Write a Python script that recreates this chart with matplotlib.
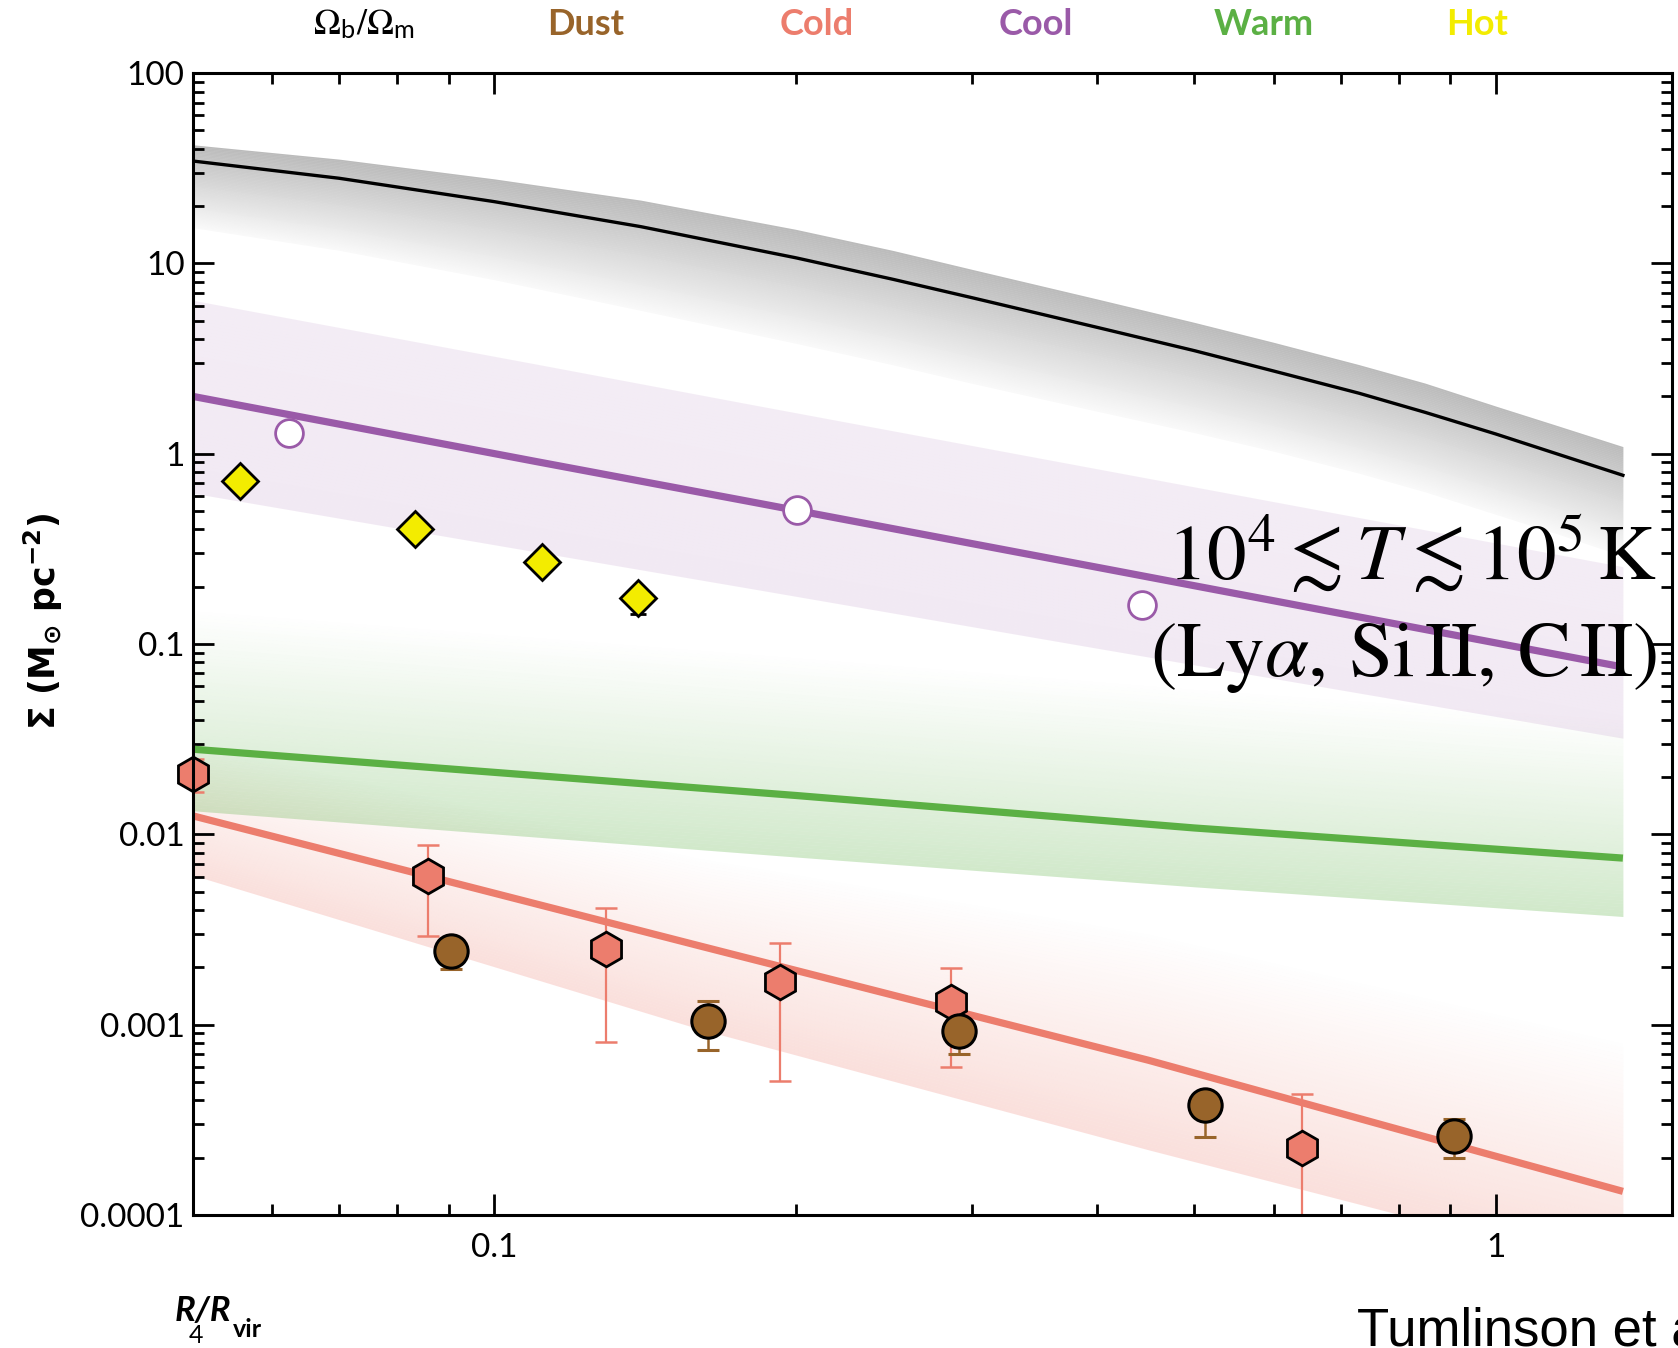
import numpy as np
import matplotlib
matplotlib.use("Agg")
import matplotlib.pyplot as plt
from matplotlib.ticker import FixedLocator, FixedFormatter, NullFormatter
from matplotlib import font_manager

# ---------------- data ----------------
# Omega_b/Omega_m (black curve) and its grey band
r_bar = [0.05, 0.07, 0.1, 0.14, 0.2, 0.25, 0.3, 0.4, 0.5, 0.6, 0.73, 0.85, 1.0, 1.15, 1.34]
sig_bar = [34.5, 28.0, 21.1, 15.6, 10.7, 8.25, 6.6, 4.61, 3.48, 2.72, 2.08, 1.65, 1.27, 1.0, 0.77]
bar_hi = [42.0, 35.3, 27.8, 21.5, 15.1, 11.7, 9.3, 6.5, 4.9, 3.85, 2.94, 2.35, 1.78, 1.41, 1.09]
bar_lo = [15.4, 11.7, 8.2, 5.66, 3.8, 2.93, 2.34, 1.67, 1.29, 1.03, 0.79, 0.63, 0.48, 0.38, 0.29]

# Cool gas model
r_cool_model = [0.05, 0.11, 0.18, 0.4, 1.34]
sig_cool_model = [2.0, 0.91, 0.56, 0.253, 0.0757]
cool_hi = [6.4, 2.96, 1.82, 0.833, 0.255]
cool_lo = [0.62, 0.305, 0.196, 0.095, 0.032]

# Warm gas model
r_warm_model = [0.05, 0.2, 0.5, 1.34]
sig_warm_model = [0.028, 0.016, 0.0108, 0.0075]
warm_hi = [0.15, 0.085, 0.058, 0.04]
warm_lo = [0.0133, 0.0076, 0.0053, 0.0037]

# Cold gas model
r_cold_model = [0.05, 0.16, 0.45, 1.34]
sig_cold_model = [0.0125, 0.0026, 0.00065, 0.000133]
cold_hi = [0.03, 0.0075, 0.003, 0.0008]
cold_lo = [0.0061, 0.00095, 0.00022, 0.00005]

# Hot data (diamonds)
r_hot = [0.0557, 0.0834, 0.1117, 0.139]
sig_hot = [0.72, 0.40, 0.27, 0.175]
hot_err_lo = [0.72, 0.40, 0.27, 0.143]
hot_err_hi = [0.72, 0.40, 0.27, 0.186]

# Cool data (open circles)
r_cool = [0.0624, 0.2004, 0.443]
sig_cool = [1.29, 0.507, 0.160]

# Cold data (hexagons)
r_cold = [0.05, 0.0859, 0.1294, 0.193, 0.286, 0.641]
sig_cold = [0.0207, 0.00605, 0.0025, 0.00168, 0.00131, 0.000225]
cold_err_lo = [0.0166, 0.00293, 0.000813, 0.000504, 0.000596, 0.00005]
cold_err_hi = [0.025, 0.0088, 0.0041, 0.0027, 0.00199, 0.00043]

# Dust data (circles)
r_dust = [0.0905, 0.1634, 0.291, 0.513, 0.909]
sig_dust = [0.00243, 0.00104, 0.000925, 0.000379, 0.00026]
dust_err_lo = [0.00195, 0.000733, 0.000697, 0.000256, 0.000198]
dust_err_hi = [0.0027, 0.00133, 0.00105, 0.00042, 0.00032]

y_ticks = [1e-4, 1e-3, 1e-2, 1e-1, 1, 10, 100]
y_ticklabels = ["0.0001", "0.001", "0.01", "0.1", "1", "10", "100"]
x_ticks = [0.1, 1]
x_ticklabels = ["0.1", "1"]

top_labels = [r"$\Omega_{\mathregular{b}}/\Omega_{\mathregular{m}}$", "Dust", "Cold", "Cool", "Warm", "Hot"]

# ---------------- style ----------------
C_DUST = "#98642a"
C_COLD = "#ec7d6d"
C_COOL = "#9a5aa8"
C_WARM = "#5bb044"
C_HOT = "#f3ec00"

plt.rcParams["font.family"] = ["Lato", "DejaVu Sans"]
plt.rcParams["mathtext.fontset"] = "dejavusans"

installed = {f.name for f in font_manager.fontManager.ttflist}
TICK_FAMILY = "Liberation Sans Narrow" if "Liberation Sans Narrow" in installed else "Lato"
TICK_SIZE = 26 if TICK_FAMILY == "Liberation Sans Narrow" else 24

fig = plt.figure(figsize=(16.78, 13.48), dpi=100)
ax = fig.add_axes([0.115, 0.0987, 0.8814, 0.8471])
ax.set_xscale("log")
ax.set_yscale("log")
ax.set_xlim(0.05, 1.5)
ax.set_ylim(1e-4, 100)


def grad_band(x, lo, hi, color, a_lo, a_hi, n=60, z=1):
    x = np.asarray(x, float)
    llo = np.log10(np.asarray(lo, float))
    lhi = np.log10(np.asarray(hi, float))
    for i in range(n):
        f0, f1 = i / n, (i + 1) / n
        y0 = 10 ** (llo + (lhi - llo) * f0)
        y1 = 10 ** (llo + (lhi - llo) * f1)
        a = a_lo + (a_hi - a_lo) * (f0 + f1) / 2
        ax.fill_between(x, y0, y1, color=color, alpha=a, lw=0,
                        antialiased=False, zorder=z)


grad_band(r_cold_model, cold_lo, cold_hi, C_COLD, 0.24, 0.0, z=1)
grad_band(r_warm_model, warm_lo, warm_hi, C_WARM, 0.28, 0.0, z=1.1)
grad_band(r_cool_model, cool_lo, cool_hi, C_COOL, 0.13, 0.11, z=1.2)
grad_band(r_bar, bar_lo, bar_hi, "black", 0.02, 0.27, z=1.3)

ax.plot(r_cold_model, sig_cold_model, color=C_COLD, lw=5.2, solid_capstyle="butt", zorder=3)
ax.plot(r_warm_model, sig_warm_model, color=C_WARM, lw=5.2, solid_capstyle="butt", zorder=3)
ax.plot(r_cool_model, sig_cool_model, color=C_COOL, lw=5.2, solid_capstyle="butt", zorder=3)
ax.plot(r_bar, sig_bar, color="black", lw=2.4, zorder=3)

# Hot diamonds
s = np.array(sig_hot)
ax.errorbar(r_hot, sig_hot,
            yerr=[s - np.array(hot_err_lo), np.array(hot_err_hi) - s],
            fmt="none", ecolor="black", elinewidth=1.8, capsize=6, capthick=2, zorder=4)
ax.plot(r_hot, sig_hot, ls="none", marker="D", ms=18, mfc=C_HOT, mec="black",
        mew=2, zorder=5)

# Cool open circles
ax.plot(r_cool, sig_cool, ls="none", marker="o", ms=20, mfc="white", mec=C_COOL,
        mew=2, zorder=5)

# Cold hexagons
s = np.array(sig_cold)
ax.errorbar(r_cold, sig_cold,
            yerr=[s - np.array(cold_err_lo), np.array(cold_err_hi) - s],
            fmt="none", ecolor=C_COLD, elinewidth=1.6, capsize=8, capthick=1.8, zorder=4)
ax.plot(r_cold, sig_cold, ls="none", marker="h", ms=25, mfc=C_COLD, mec="black",
        mew=2, zorder=6, clip_on=False)

# Dust circles
s = np.array(sig_dust)
ax.errorbar(r_dust, sig_dust,
            yerr=[s - np.array(dust_err_lo), np.array(dust_err_hi) - s],
            fmt="none", ecolor=C_DUST, elinewidth=1.8, capsize=8, capthick=2.2, zorder=6.5)
ax.plot(r_dust, sig_dust, ls="none", marker="o", ms=24, mfc=C_DUST, mec="black",
        mew=2.2, zorder=7)

# ---------------- axes ----------------
for sp in ax.spines.values():
    sp.set_linewidth(2.2)
    sp.set_zorder(10)
ax.yaxis.set_major_locator(FixedLocator(y_ticks))
ax.yaxis.set_major_formatter(FixedFormatter(y_ticklabels))
ax.xaxis.set_major_locator(FixedLocator(x_ticks))
ax.xaxis.set_major_formatter(FixedFormatter(x_ticklabels))
ax.xaxis.set_minor_formatter(NullFormatter())
ax.yaxis.set_minor_formatter(NullFormatter())
ax.tick_params(which="both", direction="in", top=True, right=True, width=2, colors="black")
ax.tick_params(which="major", length=15)
ax.tick_params(which="minor", length=8)
ax.tick_params(axis="y", which="major", labelsize=TICK_SIZE, pad=6)
ax.tick_params(axis="x", which="major", labelsize=TICK_SIZE, pad=13)
for lab in ax.get_xticklabels() + ax.get_yticklabels():
    lab.set_family([TICK_FAMILY, "Lato", "DejaVu Sans"])

# ---------------- texts ----------------
top_x = [0.217, 0.349, 0.487, 0.617, 0.753, 0.880]
top_c = ["black", C_DUST, C_COLD, C_COOL, C_WARM, C_HOT]
for i, (lab, xx, cc) in enumerate(zip(top_labels, top_x, top_c)):
    if i == 0:
        fig.text(xx, 0.982, lab, color=cc, fontsize=26, ha="center", va="center",
                 math_fontfamily="stix")
    else:
        fig.text(xx, 0.982, lab, color=cc, fontsize=26, ha="center", va="center",
                 fontweight="bold")

fig.text(0.0256, 0.539, r"$\mathbf{\Sigma\ (M_{\odot}\ pc^{-2})}$", rotation=90,
         fontsize=25, ha="center", va="center")

t1 = fig.text(0.104, 0.0274, "R/R", fontsize=25, fontweight="bold", fontstyle="italic",
              ha="left", va="center")
ax.annotate("vir", xy=(1.0, 0.0), xycoords=t1, xytext=(1, -2), textcoords="offset points",
            fontsize=18, fontweight="bold", ha="left", va="center", annotation_clip=False)
fig.text(0.117, 0.0096, "4", fontsize=18, ha="center", va="center")

fig.text(0.8087, 0.0015, "Tumlinson et al", fontsize=38, ha="left", va="baseline",
         family=["Liberation Sans", "DejaVu Sans"])

fig.text(0.9875, 0.5898, r"$10^4 \lesssim T \lesssim 10^5\,\mathrm{K}$", fontsize=57,
         ha="right", va="center", math_fontfamily="stix", zorder=20)
fig.text(0.9875, 0.5115, r"$(\mathrm{Ly}\alpha,\,\mathrm{Si\,II},\,\mathrm{C\,II})$",
         fontsize=57, ha="right", va="center", math_fontfamily="stix", zorder=20)

fig.savefig("out.png", dpi=100)
